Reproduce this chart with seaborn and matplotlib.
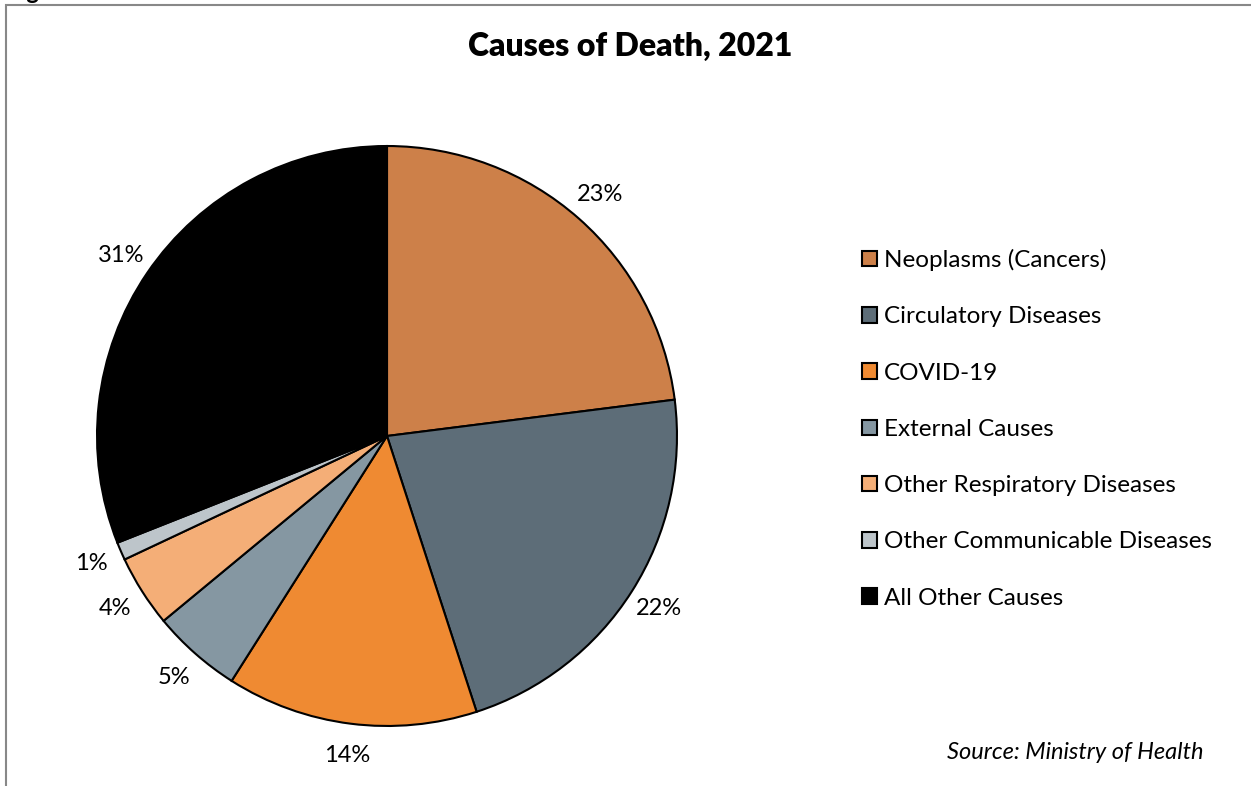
import numpy as np
import pandas as pd
import matplotlib
matplotlib.use("Agg")
import matplotlib.pyplot as plt
import seaborn as sns
from matplotlib.patches import Rectangle

# data
causes = ["Neoplasms (Cancers)", "Circulatory Diseases", "COVID-19", "External Causes",
          "Other Respiratory Diseases", "Other Communicable Diseases", "All Other Causes"]
shares = [23, 22, 14, 5, 4, 1, 31]
colors = ["#CD8049", "#5D6D78", "#EF8A32", "#8597A2", "#F4AE77", "#BDC5CA", "#000000"]

title = "Causes of Death, 2021"
source = "Source: Ministry of Health"

sns.set_theme(style="white")
plt.rcParams["font.family"] = ["Lato", "DejaVu Sans"]
plt.rcParams["text.color"] = "black"

df = pd.DataFrame({"cause": causes, "share": shares})

fig = plt.figure(figsize=(12.51, 7.86), dpi=100)
ax = fig.add_axes([0.0196, -0.0159, 0.5795, 0.9224])

wedges, texts, autotexts = ax.pie(
    df["share"], colors=colors, startangle=90, counterclock=False,
    autopct="%1.0f%%", pctdistance=1.11,
    wedgeprops=dict(edgecolor="black", linewidth=1.5),
    textprops=dict(fontsize=17, color="black"),
)
ax.set_xlim(-1.25, 1.25)
ax.set_ylim(-1.25, 1.25)
ax.set_aspect("equal")

fig.legend(wedges, df["cause"], loc="upper left", bbox_to_anchor=(0.689, 0.683),
           frameon=False, fontsize=17.5, handlelength=0.6, handleheight=0.6,
           handletextpad=0.3, labelspacing=1.45, borderaxespad=0, borderpad=0)

fig.text(0.504, 0.941, title, ha="center", va="center", fontsize=23, fontweight="heavy")
fig.text(0.962, 0.043, source, ha="right", va="center", fontsize=17, style="italic")

# outer frame (top and left visible, rest off canvas)
fig.patches.append(Rectangle((6 / 1251, -0.05), 1.2, 1.05 - 5 / 786,
                             transform=fig.transFigure, fill=False,
                             edgecolor="#888888", linewidth=1.5))
fig.text(0.006, 1.0 + 1 / 786, "Figure", ha="left", va="baseline",
         fontsize=17, fontweight="bold")

fig.savefig("out.png", dpi=100)
